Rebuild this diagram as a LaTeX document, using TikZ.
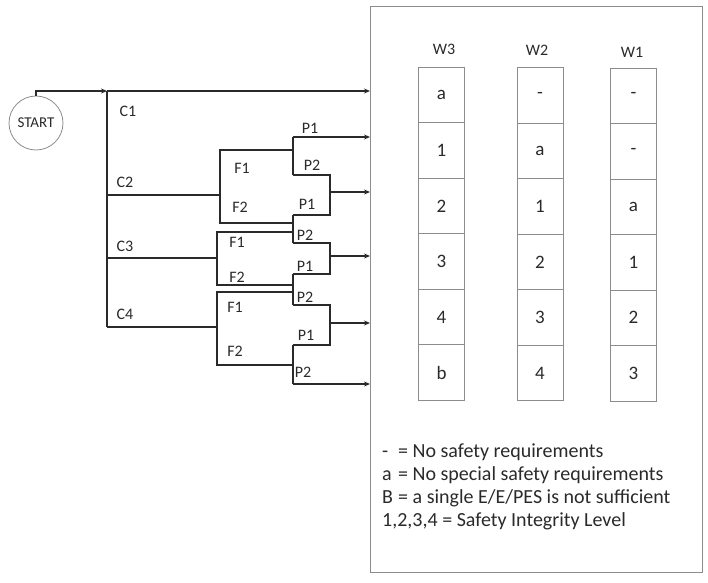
\documentclass[tikz,border=0pt]{standalone}
\usepackage{fontspec}
\setmainfont{Carlito}
\usetikzlibrary{positioning,arrows.meta}
\definecolor{ink}{HTML}{2A2A2A}
\definecolor{rule}{HTML}{8C8C8C}
\newcommand{\keysym}[1]{\makebox[16pt][l]{#1}}

\begin{document}
\begin{tikzpicture}[x=1pt, y=-1pt,
		font=\fontsize{16}{18}\selectfont, text=ink,
		line/.style={draw=ink, line width=1.3pt},
		arr/.style={line, -{Stealth[length=6pt, width=5pt]}},
		lbl/.style={inner sep=0pt},
		cell/.style={draw=rule, line width=0.8pt, minimum width=46pt, minimum height=55.5pt,
			inner sep=0pt, outer sep=0pt, font=\fontsize{19}{21}\selectfont},
		head/.style={inner sep=0pt, font=\fontsize{16}{18}\selectfont},
		startc/.style={circle, draw=rule, line width=0.8pt, minimum size=54pt, inner sep=0pt,
			font=\fontsize{15}{16}\selectfont},
		frame/.style={draw=rule, line width=0.9pt, minimum width=332pt, minimum height=566pt,
			inner sep=0pt, outer sep=0pt}
		]
		\useasboundingbox (0,0) rectangle (708,582);
		\node[startc] (start) at (36,123) {START};
		\node[frame] (frame) at (536,289) {};
		% C spine
		\coordinate (cjoin) at (107,91);
		\coordinate (c2) at (107,195);
		\coordinate (c3) at (107,258);
		\coordinate (c4) at (107,327);
		% F brackets
		\coordinate (c2f1) at (220,150); \coordinate (c2f2) at (220,223);
		\coordinate (c3f1) at (217,232); \coordinate (c3f2) at (217,285);
		\coordinate (c4f1) at (217,292); \coordinate (c4f2) at (217,365);
		% P splits
		\coordinate (s1a) at (293,137); \coordinate (s1b) at (293,175);
		\coordinate (s2a) at (293,215); \coordinate (s2b) at (293,243);
		\coordinate (s3a) at (293,274); \coordinate (s3b) at (293,305);
		\coordinate (s4a) at (293,345); \coordinate (s4b) at (293,384);
		% merges
		\coordinate (m1) at (330,192);
		\coordinate (m2) at (330,256);
		\coordinate (m3) at (330,323);
		\draw[arr] (start.north) |- (cjoin);
		\draw[arr] (cjoin) -- (cjoin -| frame.west);
		\draw[line] (cjoin) -- (c4);
		\draw[line] (c2) -- (c2 -| c2f1);
		\draw[line] (c3) -- (c3 -| c3f1);
		\draw[line] (c4) -- (c4 -| c4f1);
		\draw[line] (s1a |- c2f1) -- (c2f1) -- (c2f2) -- (s1a |- c2f2);
		\draw[line] (s1a |- c3f1) -- (c3f1) -- (c3f2) -- (s1a |- c3f2);
		\draw[line] (s1a |- c4f1) -- (c4f1) -- (c4f2) -- (s1a |- c4f2);
		\draw[line] (s1a) -- (s1b);
		\draw[line] (s2a) -- (s2b);
		\draw[line] (s3a) -- (s3b);
		\draw[line] (s4a) -- (s4b);
		\draw[line] (s1b) -| (m1) |- (s2a);
		\draw[line] (s2b) -| (m2) |- (s3a);
		\draw[line] (s3b) -| (m3) |- (s4a);
		\draw[arr] (s1a) -- (s1a -| frame.west);
		\draw[arr] (m1) -- (m1 -| frame.west);
		\draw[arr] (m2) -- (m2 -| frame.west);
		\draw[arr] (m3) -- (m3 -| frame.west);
		\draw[arr] (s4b) -- (s4b -| frame.west);
		% labels
		\node[lbl] (lc1) at (128,111) {C1};
		\node[lbl] (lc2) at (125,182) {C2};
		\node[lbl] (lc3) at (125,246) {C3};
		\node[lbl] (lc4) at (125,314) {C4};
		\node[lbl] (lf1a) at (242,168) {F1};
		\node[lbl] (lf2a) at (240,207) {F2};
		\node[lbl] (lf1b) at (237,242) {F1};
		\node[lbl] (lf2b) at (237,277) {F2};
		\node[lbl] (lf1c) at (235,307) {F1};
		\node[lbl] (lf2c) at (235,351) {F2};
		\node[lbl] (lp1a) at (310,128) {P1};
		\node[lbl] (lp2a) at (312,165) {P2};
		\node[lbl] (lp1b) at (307,204) {P1};
		\node[lbl] (lp2b) at (305,235) {P2};
		\node[lbl] (lp1c) at (305,266) {P1};
		\node[lbl] (lp2c) at (305,297) {P2};
		\node[lbl] (lp1d) at (306,335) {P1};
		\node[lbl] (lp2d) at (303,372) {P2};
		% table
		\node[head] (hw3) at (444,49) {W3};
		\node[head] (hw2) at (537,50) {W2};
		\node[head] (hw1) at (632,52) {W1};
		\node[cell] (w3a) at (441.5,95) {a};
		\node[cell, below=0pt of w3a] (w3b) {1};
		\node[cell, below=0pt of w3b] (w3c) {2};
		\node[cell, below=0pt of w3c] (w3d) {3};
		\node[cell, below=0pt of w3d] (w3e) {4};
		\node[cell, below=0pt of w3e] (w3f) {b};
		\node[cell] (w2a) at (540,95.5) {-};
		\node[cell, below=0pt of w2a] (w2b) {a};
		\node[cell, below=0pt of w2b] (w2c) {1};
		\node[cell, below=0pt of w2c] (w2d) {2};
		\node[cell, below=0pt of w2d] (w2e) {3};
		\node[cell, below=0pt of w2e] (w2f) {4};
		\node[cell] (w1a) at (633.5,95.75) {-};
		\node[cell, below=0pt of w1a] (w1b) {-};
		\node[cell, below=0pt of w1b] (w1c) {a};
		\node[cell, below=0pt of w1c] (w1d) {1};
		\node[cell, below=0pt of w1d] (w1e) {2};
		\node[cell, below=0pt of w1e] (w1f) {3};
		% key
		\node[anchor=north west, align=left, inner sep=0pt, font=\fontsize{20}{23}\selectfont] (key)
		at (382,444) {\keysym{-}= No safety requirements\\
			\keysym{a}= No special safety requirements\\
			\keysym{B}= a single E/E/PES is not sufficient\\
			1,2,3,4 = Safety Integrity Level};
	\end{tikzpicture}
\end{document}
